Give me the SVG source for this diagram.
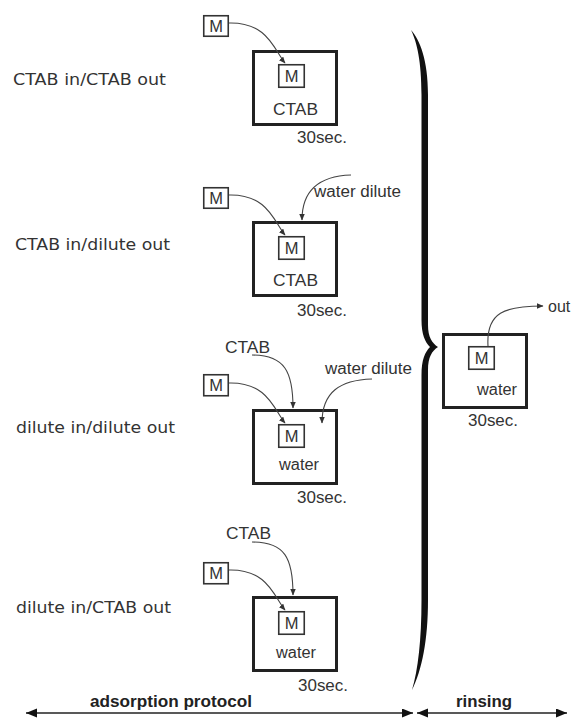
<svg xmlns="http://www.w3.org/2000/svg" width="572" height="718" viewBox="0 0 572 718">
<style>
.lbl{font-family:"DejaVu Sans",Verdana,sans-serif;font-size:16px;fill:#333}
.t{font-family:"Liberation Sans",Arial,sans-serif;font-size:16px;fill:#333}
.m{font-family:"Liberation Sans",Arial,sans-serif;font-size:16.5px;fill:#333;text-anchor:middle}
.b{font-family:"Liberation Sans",Arial,sans-serif;font-size:16px;font-weight:bold;fill:#222}
.big{fill:#fff;stroke:#222;stroke-width:3}
.mb{fill:#fff;stroke:#333;stroke-width:1.6}
.c{fill:none;stroke:#444;stroke-width:1.1}
.ax{fill:none;stroke:#222;stroke-width:1.5}
</style>
<defs>
<marker id="ah" markerUnits="userSpaceOnUse" markerWidth="7" markerHeight="6" refX="6" refY="2.75" orient="auto"><path d="M0,0 L6.5,2.75 L0,5.5 z" fill="#333"/></marker>
<marker id="bh" markerUnits="userSpaceOnUse" markerWidth="12" markerHeight="10" refX="11" refY="4.5" orient="auto-start-reverse"><path d="M0,0 L11,4.5 L0,9 z" fill="#111"/></marker>
</defs>

<g id="labels">
<text class="lbl" x="13" y="85" textLength="153" lengthAdjust="spacingAndGlyphs">CTAB in/CTAB out</text>
<text class="lbl" x="15" y="250" textLength="155" lengthAdjust="spacingAndGlyphs">CTAB in/dilute out</text>
<text class="lbl" x="16" y="433" textLength="159" lengthAdjust="spacingAndGlyphs">dilute in/dilute out</text>
<text class="lbl" x="16" y="613" textLength="155" lengthAdjust="spacingAndGlyphs">dilute in/CTAB out</text>
</g>

<g id="s1">
<rect class="mb" x="203.75" y="15.75" width="24.5" height="20.5"/>
<text class="m" x="216" y="32">M</text>
<rect class="big" x="253.5" y="51.5" width="83" height="73"/>
<rect class="mb" x="278.75" y="64.75" width="25.5" height="22.5"/>
<text class="m" x="291.5" y="82">M</text>
<text class="t" x="273" y="115" textLength="45" lengthAdjust="spacingAndGlyphs">CTAB</text>
<text class="t" x="297" y="143" textLength="50" lengthAdjust="spacingAndGlyphs">30sec.</text>
</g>

<g id="s2">
<rect class="mb" x="203.75" y="187.75" width="24.5" height="20.5"/>
<text class="m" x="216" y="204">M</text>
<rect class="big" x="253.5" y="222.5" width="83" height="73"/>
<rect class="mb" x="278.75" y="236.75" width="25.5" height="22.5"/>
<text class="m" x="291.5" y="254">M</text>
<text class="t" x="273" y="286" textLength="45" lengthAdjust="spacingAndGlyphs">CTAB</text>
<text class="t" x="297" y="316" textLength="50" lengthAdjust="spacingAndGlyphs">30sec.</text>
<text class="t" x="314" y="197" textLength="87" lengthAdjust="spacingAndGlyphs">water dilute</text>
</g>

<g id="s3">
<text class="t" x="225" y="353" textLength="45" lengthAdjust="spacingAndGlyphs">CTAB</text>
<rect class="mb" x="203.75" y="374.75" width="24.5" height="21"/>
<text class="m" x="216" y="391.3">M</text>
<rect class="big" x="253.5" y="410.5" width="83" height="73"/>
<rect class="mb" x="278.75" y="424.75" width="25.5" height="22.5"/>
<text class="m" x="291.5" y="442">M</text>
<text class="t" x="279" y="470" textLength="40" lengthAdjust="spacingAndGlyphs">water</text>
<text class="t" x="297" y="503" textLength="50" lengthAdjust="spacingAndGlyphs">30sec.</text>
<text class="t" x="325" y="374" textLength="87" lengthAdjust="spacingAndGlyphs">water dilute</text>
</g>

<g id="s4">
<text class="t" x="226" y="539" textLength="45" lengthAdjust="spacingAndGlyphs">CTAB</text>
<rect class="mb" x="203.75" y="562.75" width="24.5" height="21"/>
<text class="m" x="216" y="579.3">M</text>
<rect class="big" x="253.5" y="597.5" width="83" height="73"/>
<rect class="mb" x="278.75" y="611.75" width="25.5" height="22.5"/>
<text class="m" x="291.5" y="629">M</text>
<text class="t" x="276" y="658" textLength="40" lengthAdjust="spacingAndGlyphs">water</text>
<text class="t" x="298" y="691" textLength="50" lengthAdjust="spacingAndGlyphs">30sec.</text>
</g>

<g id="rinse">
<rect class="big" x="443.5" y="334.5" width="83" height="73"/>
<rect class="mb" x="468.75" y="346.75" width="25.5" height="22.5"/>
<text class="m" x="481.5" y="364">M</text>
<text class="t" x="477" y="395" textLength="40" lengthAdjust="spacingAndGlyphs">water</text>
<text class="t" x="468" y="426" textLength="50" lengthAdjust="spacingAndGlyphs">30sec.</text>
<text class="t" x="548" y="312">out</text>
</g>

<g id="brace">
<path d="M411,30 C420,40 428,60 428,95 L428,325 C428,337 432,343 438,347 C432,351 428,357 428,370 L428,600 C428,640 422,670 412,690 C418,670 421.5,640 421.5,600 L421.5,375 C421.5,360 425,352 430,347 C425,342 421.5,334 421.5,320 L421.5,95 C421.5,62 417,42 411,30 Z" fill="#111"/>
</g>

<g id="connectors">
<path class="c" marker-end="url(#ah)" d="M229,23 C268,22 274,50 285,63"/>
<path class="c" marker-end="url(#ah)" d="M229,195 C268,194 274,222 285,235"/>
<path class="c" marker-end="url(#ah)" d="M351,175 C320,176 302,190 302,220"/>
<path class="c" marker-end="url(#ah)" d="M252,355 C285,355 293,372 293,408"/>
<path class="c" marker-end="url(#ah)" d="M229,383 C268,382 274,410 285,423"/>
<path class="c" marker-end="url(#ah)" d="M372,379 C340,380 322,392 322,423"/>
<path class="c" marker-end="url(#ah)" d="M252,542 C285,542 293,558 293,595"/>
<path class="c" marker-end="url(#ah)" d="M229,570 C268,569 274,597 285,610"/>
<path class="c" marker-end="url(#ah)" d="M488,346 C486,312 505,306 543,306"/>
</g>

<g id="axis">
<text class="b" x="90" y="707" textLength="162" lengthAdjust="spacingAndGlyphs">adsorption protocol</text>
<text class="b" x="456" y="707" textLength="56" lengthAdjust="spacingAndGlyphs">rinsing</text>
<line class="ax" x1="26" y1="713" x2="413" y2="713" marker-start="url(#bh)" marker-end="url(#bh)"/>
<line class="ax" x1="417" y1="713" x2="567" y2="713" marker-start="url(#bh)" marker-end="url(#bh)"/>
</g>
</svg>
